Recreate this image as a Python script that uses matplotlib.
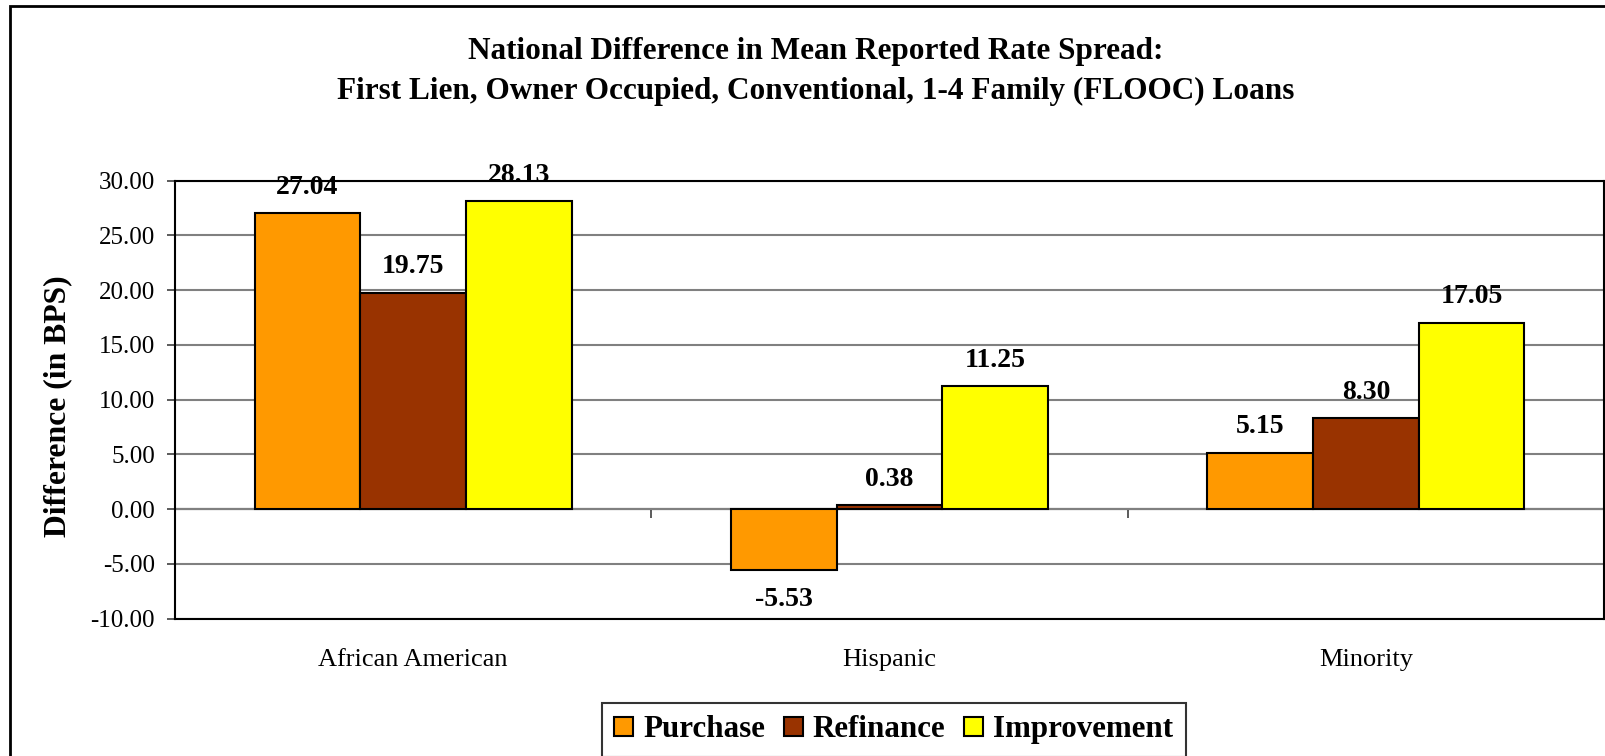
import matplotlib
matplotlib.use("Agg")
import matplotlib.pyplot as plt
from matplotlib.patches import Rectangle
import numpy as np

categories = ["African American", "Hispanic", "Minority"]
series_names = ["Purchase", "Refinance", "Improvement"]
purchase = [27.04, -5.53, 5.15]
refinance = [19.75, 0.38, 8.30]
improvement = [28.13, 11.25, 17.05]
colors = ["#FF9900", "#993300", "#FFFF00"]
yticks = [-10, -5, 0, 5, 10, 15, 20, 25, 30]
title1 = "National Difference in Mean Reported Rate Spread:"
title2 = "First Lien, Owner Occupied, Conventional, 1-4 Family (FLOOC) Loans"
ylabel = "Difference (in BPS)"

plt.rcParams['font.family'] = ['Liberation Serif', 'DejaVu Serif']
plt.rcParams['axes.unicode_minus'] = False

W, H = 1606, 756
fig = plt.figure(figsize=(W / 100, H / 100), dpi=100)
ax = fig.add_axes([175 / W, 1 - 618.7 / H, (1604 - 175) / W, (618.7 - 180.7) / H])

# outer chart frame (cropped on right/bottom in reference)
fig.patches.append(Rectangle((10 / W, -0.05), (1622 - 10) / W, 1 - 6 / H + 0.05,
                             transform=fig.transFigure, fill=False,
                             edgecolor='black', linewidth=2, clip_on=False))

x = np.arange(len(categories))
bw = 0.222
series = [purchase, refinance, improvement]
for i, (name, vals, col) in enumerate(zip(series_names, series, colors)):
    xs = x + (i - 1) * bw
    ax.bar(xs, vals, width=bw, color=col, edgecolor='black', linewidth=1.5,
           label=name, zorder=3)
    for xi, v in zip(xs, vals):
        off = 18.7 if v >= 0 else -21.6
        ax.annotate(f"{v:.2f}", (xi, v), xytext=(0, off), textcoords='offset points',
                    ha='center', va='center', fontsize=20, fontweight='bold', zorder=4)

ax.set_ylim(-10, 30)
ax.set_xlim(-0.5, len(categories) - 0.5)
ax.set_yticks(yticks)
ax.set_yticklabels([f"{t:.2f}" for t in yticks], fontsize=18)
ax.yaxis.grid(True, color='#808080', linewidth=1.5, zorder=0)
ax.tick_params(axis='y', length=5.8, width=1.2, color='#404040', pad=8.6)
ax.set_xticks(x)
ax.set_xticklabels(categories, fontsize=19)
ax.tick_params(axis='x', length=0, pad=21.5)
for s in ax.spines.values():
    s.set_linewidth(1.5)
    s.set_color('black')

# category axis at zero with boundary ticks
zf = (0 - (-10)) / (30 - (-10))
sec = ax.secondary_xaxis(zf)
sec.set_xticks(np.arange(-0.5, len(categories), 1.0))
sec.set_xticklabels([])
sec.tick_params(axis='x', length=6.5, width=1.2, direction='out', color='#404040')
sec.spines['bottom'].set_linewidth(1.5)
sec.spines['bottom'].set_color('black')

ax.set_ylabel(ylabel, fontsize=22.8, fontweight='bold', ha='center', va='center')
ax.yaxis.set_label_coords((57.5 - 175) / 1429, 1 - (406 - 180.7) / 438)

fig.text(816 / W, 1 - 52 / H, title1, ha='center', va='center', fontsize=22.5, fontweight='bold')
fig.text(816 / W, 1 - 91 / H, title2, ha='center', va='center', fontsize=22.5, fontweight='bold')

leg = fig.legend(loc='upper left', bbox_to_anchor=(602 / W, 1 - 703 / H), ncol=3,
                 prop={'size': 22.3, 'weight': 'bold'}, frameon=True, fancybox=False,
                 edgecolor='black', handlelength=0.61, handleheight=0.61,
                 handletextpad=0.32, columnspacing=0.61, borderpad=0.4,
                 borderaxespad=0)
leg.get_frame().set_linewidth(1.5)

fig.savefig("out.png", dpi=100)
